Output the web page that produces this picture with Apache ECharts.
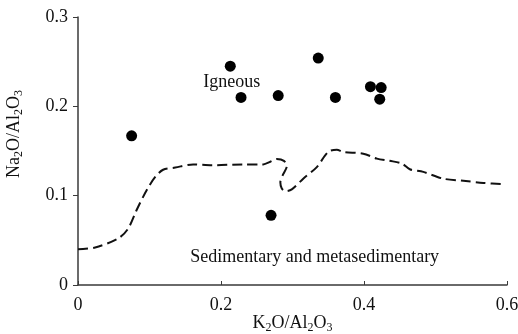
<!DOCTYPE html>
<html>
<head>
<meta charset="utf-8">
<script src="https://cdn.jsdelivr.net/npm/echarts@6/dist/echarts.min.js"></script>
<style>
  html, body { margin: 0; padding: 0; background: #fff; }
  #chart { width: 518px; height: 334px; }
</style>
</head>
<body>
<div id="chart"></div>
<script>
// samples (K2O/Al2O3, Na2O/Al2O3)
var sampleX = [0.075, 0.213, 0.228, 0.280, 0.336, 0.360, 0.409, 0.424, 0.422, 0.270];
var sampleY = [0.167, 0.245, 0.210, 0.212, 0.254, 0.210, 0.222, 0.221, 0.208, 0.078];

// dashed boundary between igneous and sedimentary fields
var boundX = [0, 0.024, 0.056, 0.070, 0.082, 0.096, 0.108, 0.119, 0.136, 0.161, 0.187, 0.231, 0.259, 0.269, 0.278,
  0.288, 0.292, 0.287, 0.283, 0.285, 0.290, 0.299, 0.315, 0.334, 0.350, 0.362, 0.371, 0.399, 0.418, 0.436, 0.453,
  0.464, 0.483, 0.511, 0.539, 0.567, 0.595];
var boundY = [0.040, 0.042, 0.052, 0.063, 0.084, 0.106, 0.121, 0.129, 0.1315, 0.135, 0.134, 0.135, 0.135, 0.138, 0.141,
  0.139, 0.133, 0.124, 0.115, 0.108, 0.105, 0.107, 0.119, 0.132, 0.149, 0.1515, 0.149, 0.147, 0.1415, 0.139, 0.136,
  0.1296, 0.1266, 0.119, 0.1166, 0.1143, 0.1128];

var xTicks = [0, 0.2, 0.4, 0.6];
var yTicks = [0, 0.1, 0.2, 0.3];

var regionNames = ['Igneous', 'Sedimentary and metasedimentary'];
var regionX = [0.215, 0.331];
var regionY = [0.227, 0.0316];

var font = '"Liberation Serif", "Times New Roman", serif';
var axisColor = '#3a3a3a';
var textColor = '#111';

var chart = echarts.init(document.getElementById('chart'));

var option = {
  animation: false,
  textStyle: { fontFamily: font },
  grid: { left: 78, right: 11, top: 17, bottom: 49, outerBoundsMode: 'none' },
  xAxis: {
    type: 'value',
    min: xTicks[0],
    max: xTicks[xTicks.length - 1],
    interval: 0.2,
    splitLine: { show: false },
    axisLine: { lineStyle: { color: axisColor, width: 1.5 } },
    axisTick: { inside: true, length: 4, lineStyle: { color: axisColor } },
    axisLabel: { color: textColor, fontSize: 18, fontFamily: font, margin: 11,
      formatter: function (v) { return String(+v.toFixed(1)); } },
    name: '{n|K}{s|2}{n|O/Al}{s|2}{n|O}{s|3}',
    nameLocation: 'middle',
    nameGap: 27,
    nameMoveOverlap: false,
    nameTextStyle: {
      rich: {
        n: { fontSize: 18, fontFamily: font, color: textColor },
        s: { fontSize: 12, fontFamily: font, color: textColor, padding: [10, 0, 0, 0] }
      }
    }
  },
  yAxis: {
    type: 'value',
    min: yTicks[0],
    max: yTicks[yTicks.length - 1],
    interval: 0.1,
    splitLine: { show: false },
    axisLine: { show: true, lineStyle: { color: axisColor, width: 1.5 } },
    axisTick: { show: true, length: 5, lineStyle: { color: axisColor } },
    axisLabel: { color: textColor, fontSize: 18, fontFamily: font, margin: 10,
      formatter: function (v) { return String(+v.toFixed(1)); } }
  },
  graphic: [{
    type: 'text',
    x: 14,
    y: 134,
    rotation: Math.PI / 2,
    style: {
      text: '{n|Na}{s|2}{n|O/Al}{s|2}{n|O}{s|3}',
      align: 'center',
      verticalAlign: 'middle',
      rich: {
        n: { fontSize: 18, fontFamily: font, fill: textColor },
        s: { fontSize: 12, fontFamily: font, fill: textColor, padding: [10, 0, 0, 0] }
      }
    }
  }],
  series: [
    {
      type: 'line',
      data: boundX.map(function (x, i) { return [x, boundY[i]]; }),
      showSymbol: false,
      smooth: 0.3,
      lineStyle: { color: '#111', width: 2, type: [10, 5] },
      silent: true,
      z: 2
    },
    {
      type: 'scatter',
      data: sampleX.map(function (x, i) { return [x, sampleY[i]]; }),
      symbol: 'circle',
      symbolSize: 11,
      itemStyle: { color: '#000', opacity: 1 },
      z: 3
    },
    {
      type: 'scatter',
      data: regionNames.map(function (n, i) { return { name: n, value: [regionX[i], regionY[i]] }; }),
      symbolSize: 0,
      itemStyle: { opacity: 1 },
      label: {
        show: true,
        position: 'inside',
        formatter: '{b}',
        fontSize: 18,
        fontFamily: font,
        color: textColor
      },
      silent: true,
      z: 4
    }
  ]
};

chart.setOption(option);
</script>
</body>
</html>
